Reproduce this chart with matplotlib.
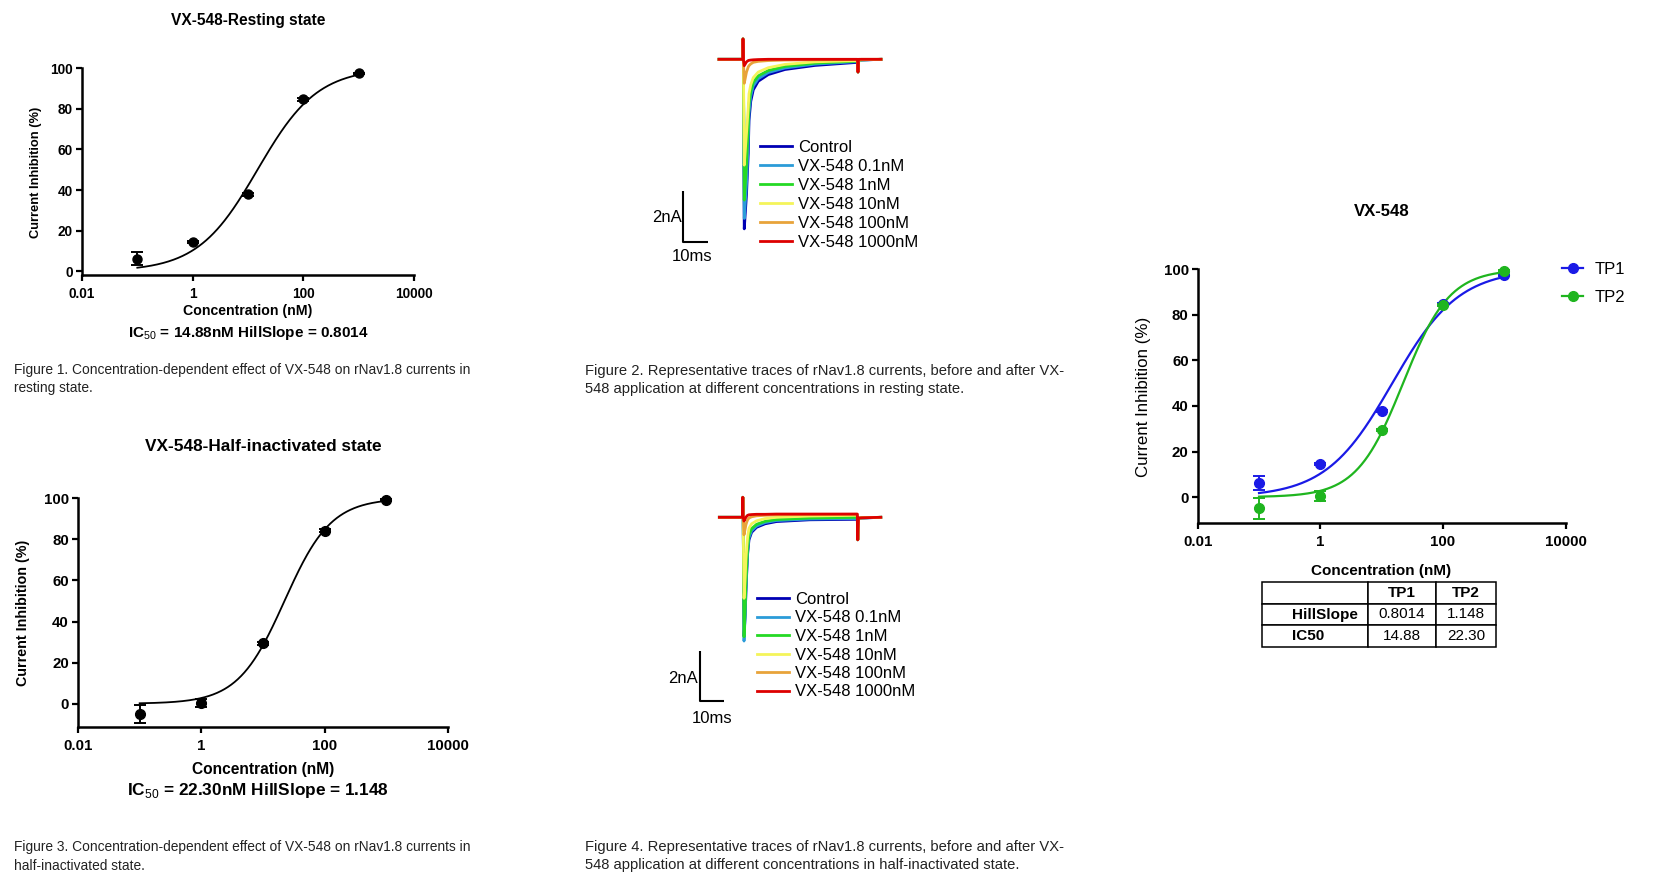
import numpy as np
import matplotlib
matplotlib.use("Agg")
import matplotlib.pyplot as plt
from matplotlib.lines import Line2D
from matplotlib.ticker import NullLocator

plt.rcParams['font.family'] = ['Liberation Sans', 'DejaVu Sans']
plt.rcParams['mathtext.fontset'] = 'custom'
plt.rcParams['mathtext.rm'] = 'Liberation Sans'
plt.rcParams['mathtext.bf'] = 'Liberation Sans:bold'

# ------------------------------------------------------------------ data
conc = [0.1, 1, 10, 100, 1000]                    # nM
tp1_mean = [6.2, 14.5, 37.8, 84.6, 97.3]          # resting state (TP1)
tp1_err = [3.2, 0.6, 0.6, 0.6, 0.4]
tp2_mean = [-5.0, 0.5, 29.4, 84.3, 99.3]          # half-inactivated (TP2)
tp2_err = [4.5, 2.0, 0.6, 0.6, 0.4]
tp1_ic50, tp1_hill = 14.88, 0.8014
tp2_ic50, tp2_hill = 22.30, 1.148
fit_bottom, fit_top = 0.0, 100.0
series_names = ['TP1', 'TP2']

x_ticks = [0.01, 1, 100, 10000]
x_tick_labels = ['0.01', '1', '100', '10000']
y_ticks = [0, 20, 40, 60, 80, 100]

trace_labels = ['Control', 'VX-548 0.1nM', 'VX-548 1nM', 'VX-548 10nM',
                'VX-548 100nM', 'VX-548 1000nM']

# resting-state traces (time in ms from pulse onset, current in nA)
t_rest = [-9.8, -0.3, -0.2, -0.05, 0.3, 1.2, 1.9, 2.2, 2.9, 3.9, 5.9, 9.9,
          16.6, 28.6, 45.6, 45.8, 46.0, 47, 55]
rest_control = [0, 0, 0.8, 0, -6.65, -5.3, -3.7, -2.4, -1.65, -1.2, -0.86, -0.6,
                -0.4, -0.24, -0.12, -0.5, -0.08, -0.03, 0]
rest_01nM = [0, 0, 0.8, 0, -6.24, -4.9, -3.2, -2.1, -1.45, -1.05, -0.76, -0.52,
             -0.34, -0.19, -0.09, -0.5, -0.07, -0.03, 0]
rest_1nM = [0, 0, 0.8, 0, -5.52, -4.1, -2.6, -1.75, -1.25, -0.9, -0.65, -0.44,
            -0.28, -0.15, -0.07, -0.5, -0.06, -0.02, 0]
rest_10nM = [0, 0, 0.8, 0, -4.15, -2.9, -1.9, -1.35, -1.0, -0.72, -0.5, -0.33,
             -0.2, -0.1, -0.05, -0.5, -0.05, -0.02, 0]
rest_100nM = [0, 0, 0.8, 0, -0.94, -0.5, -0.3, -0.25, -0.18, -0.12, -0.08, -0.05,
              -0.03, -0.02, -0.01, -0.5, -0.02, 0, 0]
rest_1000nM = [0, 0, 0.8, 0, -0.25, -0.1, -0.05, -0.04, -0.03, -0.02, -0.01, 0,
               0, 0, 0, -0.5, 0, 0, 0]

# half-inactivated-state traces
t_half = [-10.1, -0.3, -0.2, -0.05, 0.3, 0.8, 1.1, 1.5, 1.84, 2.4, 3.5, 5.6,
          9.2, 14, 28, 48.1, 48.3, 48.6, 50, 58]
half_control = [0, 0, 0.8, 0, -4.75, -3.9, -3.0, -2.1, -1.45, -0.9, -0.6, -0.4,
                -0.26, -0.17, -0.1, -0.08, -0.9, -0.05, -0.03, 0]
half_01nM = [0, 0, 0.8, 0, -4.95, -3.9, -2.95, -2.0, -1.35, -0.82, -0.54, -0.35,
             -0.21, -0.13, -0.07, -0.05, -0.9, -0.04, -0.03, 0]
half_1nM = [0, 0, 0.8, 0, -4.78, -3.6, -2.65, -1.8, -1.2, -0.7, -0.45, -0.28,
            -0.16, -0.09, -0.03, 0.0, -0.9, -0.03, -0.02, 0]
half_10nM = [0, 0, 0.8, 0, -3.24, -2.4, -1.7, -1.15, -0.78, -0.44, -0.26, -0.14,
             -0.05, 0.0, 0.05, 0.08, -0.9, -0.03, -0.02, 0]
half_100nM = [0, 0, 0.8, 0, -0.7, -0.45, -0.3, -0.18, -0.1, -0.03, 0.02, 0.06,
              0.08, 0.1, 0.11, 0.12, -0.9, -0.03, -0.02, 0]
half_1000nM = [0, 0, 0.8, 0, -0.15, -0.05, 0.0, 0.05, 0.08, 0.1, 0.11, 0.12,
               0.12, 0.13, 0.13, 0.13, -0.9, -0.03, -0.02, 0]

scale_na, scale_ms = 2, 10

captions = [
    ["Figure 1. Concentration-dependent effect of VX-548 on rNav1.8 currents in",
     "resting state."],
    ["Figure 2. Representative traces of rNav1.8 currents, before and after VX-",
     "548 application at different concentrations in resting state."],
    ["Figure 3. Concentration-dependent effect of VX-548 on rNav1.8 currents in",
     "half-inactivated state."],
    ["Figure 4. Representative traces of rNav1.8 currents, before and after VX-",
     "548 application at different concentrations in half-inactivated state."],
]

# ------------------------------------------------------------------ style
W, H = 1678, 884
trace_colors = ['#0000b4', '#2b9cd8', '#25d925', '#f4f45a', '#e8a33a', '#dd0000']
tp_colors = ['#1a1ae6', '#1fb51f']

fig = plt.figure(figsize=(W / 100, H / 100), dpi=100)


def ax_px(l, t, r, b):
    return fig.add_axes([l / W, 1 - b / H, (r - l) / W, (b - t) / H])


def ftext(x, y, s, **kw):
    return fig.text(x / W, 1 - y / H, s, **kw)


def frac(box, x, y):
    l, t, r, b = box
    return (x - l) / (r - l), (b - y) / (b - t)


def hill(x, ic50, h):
    return fit_bottom + (fit_top - fit_bottom) / (1 + (ic50 / x) ** h)


def dose_axes(box, ymin, tick_fs):
    ax = ax_px(*box)
    ax.set_xscale('log')
    ax.set_xlim(x_ticks[0], x_ticks[-1])
    ax.set_ylim(ymin, 100)
    ax.set_xticks(x_ticks)
    ax.set_xticklabels(x_tick_labels)
    ax.xaxis.set_minor_locator(NullLocator())
    ax.set_yticks(y_ticks)
    for s in ['top', 'right']:
        ax.spines[s].set_visible(False)
    for s in ['left', 'bottom']:
        ax.spines[s].set_linewidth(1.8)
    ax.tick_params(direction='out', length=4, width=1.6, labelsize=tick_fs)
    ax.tick_params(axis='x', pad=4.5)
    ax.tick_params(axis='y', pad=2.5)
    for lab in ax.get_xticklabels() + ax.get_yticklabels():
        lab.set_fontweight('bold')
    return ax


def dose_points(ax, mean, err, color, ms):
    eb = ax.errorbar(conc, mean, yerr=err, fmt='none', ecolor=color, capsize=4.5,
                     elinewidth=1.4, capthick=1.4, zorder=2)
    for art in eb.lines[1] + eb.lines[2]:
        art.set_clip_on(False)
    ax.plot(conc, mean, 'o', color=color, ms=ms, zorder=3, clip_on=False)


xs = np.logspace(np.log10(conc[0]), np.log10(conc[-1]), 300)

# ------------------------------------------------------------------ panel 1
box1 = (82, 68, 414, 275)
ax1 = dose_axes(box1, -1.8, 9.8)
ax1.plot(xs, hill(xs, tp1_ic50, tp1_hill), color='black', lw=1.3, clip_on=False)
dose_points(ax1, tp1_mean, tp1_err, 'black', 6.5)
ax1.set_ylabel('Current Inhibition (%)', fontsize=9.3, fontweight='bold', va='center')
ax1.yaxis.set_label_coords(*frac(box1, 36, 172))
ax1.set_xlabel('Concentration (nM)', fontsize=10.2, fontweight='bold', va='center')
ax1.xaxis.set_label_coords(*frac(box1, 248, 311))
ax1.set_title('VX-548-Resting state', fontsize=11.2, fontweight='bold',
              va='center', y=frac(box1, 0, 20)[1], pad=0)
ax1.text(*frac(box1, 248, 333),
         r'IC$_{\mathrm{50}}$ = %.2fnM HillSlope = %.4f' % (tp1_ic50, tp1_hill),
         transform=ax1.transAxes, ha='center', va='center', fontsize=11,
         fontweight='bold')

# ------------------------------------------------------------------ panel 3
box3 = (78, 498.3, 448, 727.3)
ax3 = dose_axes(box3, -11.5, 10.8)
ax3.plot(xs, hill(xs, tp2_ic50, tp2_hill), color='black', lw=1.3, clip_on=False)
dose_points(ax3, tp2_mean, tp2_err, 'black', 7)
ax3.set_ylabel('Current Inhibition (%)', fontsize=10.3, fontweight='bold', va='center')
ax3.yaxis.set_label_coords(*frac(box3, 23, 613))
ax3.set_xlabel('Concentration (nM)', fontsize=11.2, fontweight='bold', va='center')
ax3.xaxis.set_label_coords(*frac(box3, 263, 769.5))
ax3.set_title('VX-548-Half-inactivated state', fontsize=12.4, fontweight='bold',
              va='center', y=frac(box3, 0, 446)[1], pad=0)
ax3.text(*frac(box3, 258, 791),
         r'IC$_{\mathrm{50}}$ = %.2fnM HillSlope = %.3f' % (tp2_ic50, tp2_hill),
         transform=ax3.transAxes, ha='center', va='center', fontsize=12.4,
         fontweight='bold')

# ------------------------------------------------------------------ panel 5
box5 = (1197.7, 269.3, 1565.7, 523.3)
ax5 = dose_axes(box5, -11.5, 10.8)
proxies = []
for mean, err, ic50, h, c in zip([tp1_mean, tp2_mean], [tp1_err, tp2_err],
                                  [tp1_ic50, tp2_ic50], [tp1_hill, tp2_hill],
                                  tp_colors):
    ax5.plot(xs, hill(xs, ic50, h), color=c, lw=1.6, clip_on=False)
    dose_points(ax5, mean, err, c, 7)
    proxies.append(Line2D([], [], color=c, lw=1.6, marker='o', ms=7))
ax5.set_ylabel('Current Inhibition (%)', fontsize=12.2, va='center')
ax5.yaxis.set_label_coords(*frac(box5, 1143.5, 397))
ax5.set_xlabel('Concentration (nM)', fontsize=11, fontweight='bold', va='center')
ax5.xaxis.set_label_coords(*frac(box5, 1381, 571))
ax5.set_title('VX-548', fontsize=12.1, fontweight='bold', va='center',
              y=frac(box5, 0, 212)[1], pad=0)
ax5.legend(proxies, series_names, loc='upper left',
           bbox_to_anchor=(1561.7 / W, 1 - 261.5 / H), bbox_transform=fig.transFigure,
           frameon=False, fontsize=12, handlelength=1.3, handletextpad=0.7,
           labelspacing=0.8, borderpad=0, borderaxespad=0)

# table
tab_ax = ax_px(1261.7, 582.3, 1496, 646.7)
tab_ax.axis('off')
cell_text = [['', series_names[0], series_names[1]],
             ['HillSlope', '%#.4g' % tp1_hill, '%#.4g' % tp2_hill],
             ['IC50', '%#.4g' % tp1_ic50, '%#.4g' % tp2_ic50]]
tbl = tab_ax.table(cellText=cell_text, bbox=[0, 0, 1, 1], cellLoc='center',
                   colWidths=[106, 68, 60.3])
tbl.auto_set_font_size(False)
for (r, c), cell in tbl.get_celld().items():
    cell.set_linewidth(1.1)
    cell.set_edgecolor('black')
    txt = cell.get_text()
    txt.set_fontsize(11)
    if r == 0 or c == 0:
        txt.set_fontweight('bold')
    if c == 0:
        cell.set_text_props(ha='left')
        cell.PAD = 0.29

# ------------------------------------------------------------------ trace panels


def trace_panel(box, t_on_px, base_px, px_ms, px_na, t, traces, sb_px, lab2na_px,
                lab10_px, leg_px, leg_sp, leg_pad):
    l, tp, r, b = box
    ax = ax_px(*box)
    ax.set_xlim((l - t_on_px) / px_ms, (r - t_on_px) / px_ms)
    ax.set_ylim((base_px - b) / px_na, (base_px - tp) / px_na)
    ax.axis('off')
    handles = []
    for tr, c, name in zip(traces, trace_colors, trace_labels):
        ln, = ax.plot(t, tr, color=c, lw=2.0, label=name, solid_joinstyle='round')
        handles.append(ln)
    # scale bar
    sx = (sb_px[0] - t_on_px) / px_ms
    sy = (base_px - sb_px[1]) / px_na
    ax.plot([sx, sx, sx + scale_ms], [sy + scale_na, sy, sy], color='black', lw=1.5,
            solid_capstyle='butt')
    ax.text((lab2na_px[0] - t_on_px) / px_ms, (base_px - lab2na_px[1]) / px_na,
            '%dnA' % scale_na, ha='right', va='center', fontsize=12)
    ax.text((lab10_px[0] - t_on_px) / px_ms, (base_px - lab10_px[1]) / px_na,
            '%dms' % scale_ms, ha='center', va='center', fontsize=12)
    ax.legend(handles=handles, loc='upper left',
              bbox_to_anchor=(leg_px[0] / W, 1 - leg_px[1] / H),
              bbox_transform=fig.transFigure, frameon=False, fontsize=12,
              handlelength=1.9, handletextpad=leg_pad, labelspacing=leg_sp,
              borderpad=0, borderaxespad=0)
    return ax


trace_panel((640, 30, 900, 265), 743.5, 59.3, 2.5, 25.5, t_rest,
            [rest_control, rest_01nM, rest_1nM, rest_10nM, rest_100nM, rest_1000nM],
            (682.7, 241.7), (682, 218), (691.7, 256.7), (760, 140), 0.24, 0.4)

trace_panel((640, 480, 900, 730), 743.3, 517.3, 2.37, 25.0, t_half,
            [half_control, half_01nM, half_1nM, half_10nM, half_100nM, half_1000nM],
            (700, 700.7), (698, 678.3), (711.7, 718.3), (757.3, 592), 0.21, 0.36)

# ------------------------------------------------------------------ captions
cap_pos = [(14, 370), (585, 370.7), (14, 847.3), (585, 846.7)]
cap_fs = [9.9, 10.6, 9.9, 10.6]
for (cx, cy), fs, lines in zip(cap_pos, cap_fs, captions):
    for i, line in enumerate(lines):
        ftext(cx, cy + i * 18.3, line, ha='left', va='center', fontsize=fs,
              color='#222222')

fig.savefig('out.png', dpi=100)
